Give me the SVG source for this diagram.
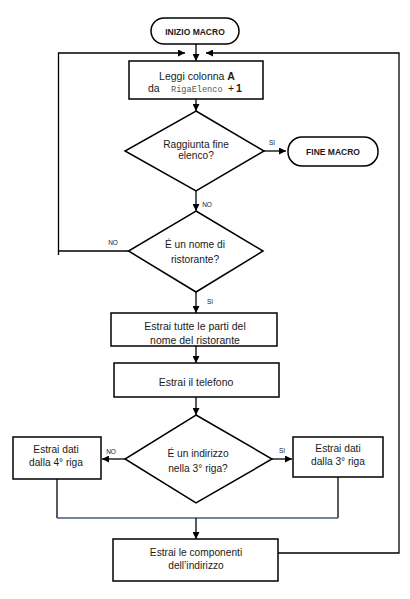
<svg xmlns="http://www.w3.org/2000/svg" width="410" height="599" viewBox="0 0 410 599">
<defs>
<marker id="ah" viewBox="0 0 10 10" refX="10" refY="5" markerWidth="7" markerHeight="7" markerUnits="userSpaceOnUse" orient="auto">
<path d="M0,0 L10,5 L0,10 z" fill="#000"/>
</marker>
<style>
.box{fill:#fff;stroke:#000;stroke-width:1.5}
.ln{fill:none;stroke:#000;stroke-width:1.3}
.arr{fill:none;stroke:#000;stroke-width:1.3;marker-end:url(#ah)}
text{font-family:"Liberation Sans",Arial,sans-serif;fill:#1a1a1a;text-anchor:middle}
.t{font-size:10.5px}
.d{font-size:10.2px}
.b{font-size:8.5px;font-weight:bold}
.s{font-size:6.5px}
.l{text-anchor:start}
.m{font-family:"Liberation Mono",monospace;font-size:8.6px;fill:#555;text-anchor:start}
</style>
</defs>
<rect width="410" height="599" fill="#fff"/>
<g id="connectors">
<line class="arr" x1="196" y1="44" x2="196" y2="61"/>
<polyline class="arr" points="58.5,255 58.5,53 185,53"/>
<line class="ln" x1="58.5" y1="251" x2="128.5" y2="251"/>
<polyline class="ln" points="278,553 399,553 399,53 260,53"/>
<line class="arr" x1="260" y1="53" x2="206" y2="53"/>
<line class="arr" x1="196" y1="99" x2="196" y2="111"/>
<line class="arr" x1="264" y1="151" x2="286" y2="151"/>
<line class="arr" x1="196" y1="191" x2="196" y2="211"/>
<line class="arr" x1="196" y1="292" x2="196" y2="313"/>
<line class="arr" x1="196" y1="346" x2="196" y2="363"/>
<line class="arr" x1="196" y1="397" x2="196" y2="415"/>
<line class="arr" x1="125" y1="459" x2="102" y2="459"/>
<line class="arr" x1="272" y1="459" x2="292" y2="459"/>
<polyline class="ln" points="57,478 57,518"/>
<polyline class="ln" points="338,477 338,518"/>
<line x1="57" y1="518" x2="338" y2="518" stroke="#4a5785" stroke-width="1.5"/>
<line class="arr" x1="196" y1="518" x2="196" y2="539"/>
</g>
<g id="start">
<rect class="box" x="151" y="18" width="88" height="26" rx="13"/>
<text class="b" x="195" y="35">INIZIO MACRO</text>
</g>
<g id="read">
<rect class="box" x="129" y="61" width="134" height="38"/>
<text class="t" x="197" y="80">Leggi colonna <tspan font-weight="bold">A</tspan></text>
<text class="t l" x="148" y="92">da</text>
<text class="m" x="171" y="92">RigaElenco</text>
<text class="t l" x="228" y="92">+</text>
<text class="t l" x="236" y="92" font-weight="bold">1</text>
</g>
<g id="endcheck">
<polygon class="box" points="196,111 264,151 196,191 125,151"/>
<text class="d" x="196" y="148">Raggiunta fine</text>
<text class="d" x="196" y="159">elenco?</text>
</g>
<g id="end">
<rect class="box" x="288" y="137" width="90" height="29" rx="14"/>
<text class="b" x="333" y="155">FINE MACRO</text>
</g>
<g id="namecheck">
<polygon class="box" points="196,211 263,251 196,292 128.5,251"/>
<text class="d" x="195" y="248">É un nome di</text>
<text class="d" x="195" y="263">ristorante?</text>
</g>
<g id="extractname">
<rect class="box" x="111" y="313" width="166" height="33"/>
<text class="t" x="195" y="330">Estrai tutte le parti del</text>
<text class="t" x="195" y="344">nome del ristorante</text>
</g>
<g id="phone">
<rect class="box" x="114" y="363" width="165" height="34"/>
<text class="t" x="196" y="386">Estrai il telefono</text>
</g>
<g id="addrcheck">
<polygon class="box" points="196,415 272,459 196,503 125,459"/>
<text class="d" x="198" y="457">É un indirizzo</text>
<text class="d" x="198" y="472">nella 3° riga?</text>
</g>
<g id="row4">
<rect class="box" x="13" y="437" width="88" height="42"/>
<text class="d" x="56" y="453">Estrai dati</text>
<text class="d" x="56" y="466">dalla 4° riga</text>
</g>
<g id="row3">
<rect class="box" x="293" y="437" width="90" height="40"/>
<text class="d" x="338" y="452">Estrai dati</text>
<text class="d" x="338" y="465">dalla 3° riga</text>
</g>
<g id="components">
<rect class="box" x="113" y="539" width="165" height="42"/>
<text class="d" x="196" y="556">Estrai le componenti</text>
<text class="d" x="196" y="569">dell’indirizzo</text>
</g>
<g id="labels">
<text class="s" x="272" y="145">SI</text>
<text class="s" x="207" y="207">NO</text>
<text class="s" x="113" y="245">NO</text>
<text class="s" x="210" y="304">SI</text>
<text class="s" x="111" y="454">NO</text>
<text class="s" x="282" y="453">SI</text>
</g>
</svg>
